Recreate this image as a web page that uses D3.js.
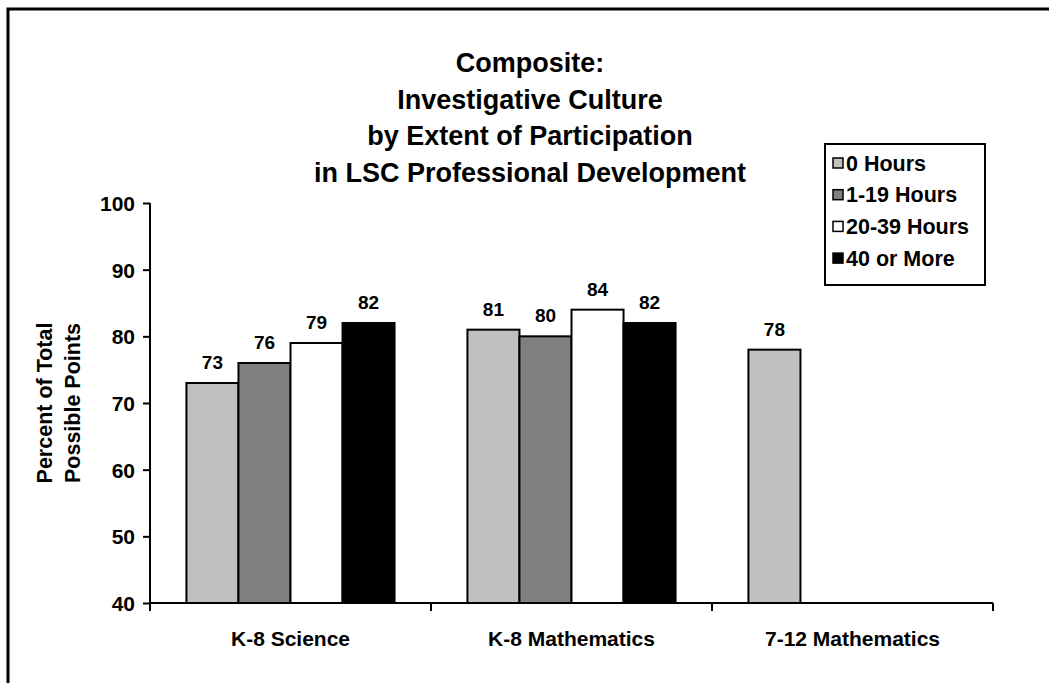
<!DOCTYPE html>
<html><head><meta charset="utf-8">
<script src="https://cdn.jsdelivr.net/npm/d3@7"></script>
<style>body{margin:0;background:#fff}svg{display:block}text{font-family:"Liberation Sans",Arial,sans-serif;font-weight:bold;fill:#000}</style>
</head><body><svg id="c" width="1049" height="683"></svg>
<script>
const categories = ["K-8 Science", "K-8 Mathematics", "7-12 Mathematics"];
const seriesNames = ["0 Hours", "1-19 Hours", "20-39 Hours", "40 or More"];
const seriesColors = ["#c0c0c0", "#808080", "#ffffff", "#000000"];
const s0 = [73, 81, 78];
const s1 = [76, 80, null];
const s2 = [79, 84, null];
const s3 = [82, 82, null];
const seriesValues = [s0, s1, s2, s3];
const yTicks = [40, 50, 60, 70, 80, 90, 100];
const titleLines = ["Composite:", "Investigative Culture", "by Extent of Participation", "in LSC Professional Development"];
const yTitleLines = ["Percent of Total", "Possible Points"];

const svg = d3.select("#c");
// outer frame
svg.append("rect").attr("x", 8).attr("y", 9).attr("width", 1100).attr("height", 800)
  .attr("fill", "none").attr("stroke", "#000").attr("stroke-width", 3);

const L = 150, R = 993, T = 203, B = 603;
const x = d3.scaleBand().domain(categories).range([L, R]).paddingInner(0).paddingOuter(0);
const inner = d3.scaleBand().domain(d3.range(4)).range([0, x.bandwidth()]).paddingOuter(0.70).paddingInner(0);
const y = d3.scaleLinear().domain([40, 100]).range([B, T]);

// title
svg.append("g").selectAll("text").data(titleLines).join("text")
  .attr("x", 530).attr("y", (d, i) => 72 + i * 36.7)
  .attr("text-anchor", "middle").style("font-size", "27px").text(d => d);

// y axis
const yAxis = d3.axisLeft(y).tickValues(yTicks).tickSize(7).tickPadding(8).tickFormat(d3.format("d"));
const gy = svg.append("g").attr("transform", `translate(${L},0)`).call(yAxis);
gy.select(".domain").attr("d", `M0,${T}V${B + 8}`).attr("stroke", "#000").attr("stroke-width", 2);
gy.selectAll(".tick line").attr("stroke", "#000").attr("stroke-width", 2);
gy.selectAll(".tick text").style("font-size", "21px").style("font-family", '"Liberation Sans",Arial,sans-serif').style("font-weight", "bold").attr("dy", "0.36em");

// y title
const yt = svg.append("text").attr("transform", `translate(0,403) rotate(-90)`).attr("text-anchor", "middle").style("font-size", "21.5px");
yTitleLines.forEach((t, i) => yt.append("tspan").attr("x", 0).attr("y", 52 + i * 28).text(t));

// bars
const barData = [];
seriesValues.forEach((vals, si) => vals.forEach((v, ci) => { if (v != null) barData.push({ si, ci, v }); }));
svg.append("g").selectAll("rect").data(barData).join("rect")
  .attr("x", d => x(categories[d.ci]) + inner(d.si))
  .attr("width", inner.bandwidth())
  .attr("y", d => y(d.v)).attr("height", d => y(40) - y(d.v))
  .attr("fill", d => seriesColors[d.si]).attr("stroke", "#000").attr("stroke-width", 2);

// bar labels
svg.append("g").selectAll("text").data(barData).join("text")
  .attr("x", d => x(categories[d.ci]) + inner(d.si) + inner.bandwidth() / 2)
  .attr("y", d => y(d.v) - 14)
  .attr("text-anchor", "middle").style("font-size", "19px").text(d => d.v);

// x axis
const xAxis = d3.axisBottom(x).tickSize(0).tickPadding(28);
const gx = svg.append("g").attr("transform", `translate(0,${B})`).call(xAxis);
gx.select(".domain").attr("d", `M${L},0H${R}`).attr("stroke", "#000").attr("stroke-width", 2);
gx.selectAll(".tick text").style("font-size", "21px").style("font-family", '"Liberation Sans",Arial,sans-serif').style("font-weight", "bold");
// boundary ticks
const bounds = categories.map(c => x(c)).concat([R]);
svg.append("g").selectAll("line").data(bounds).join("line")
  .attr("x1", d => d).attr("x2", d => d).attr("y1", B).attr("y2", B + 8)
  .attr("stroke", "#000").attr("stroke-width", 2);

// legend
const lg = svg.append("g");
lg.append("rect").attr("x", 825).attr("y", 144).attr("width", 160).attr("height", 141)
  .attr("fill", "#fff").attr("stroke", "#000").attr("stroke-width", 2);
const items = lg.selectAll("g.item").data(seriesNames).join("g").attr("class", "item")
  .attr("transform", (d, i) => `translate(833,${163 + i * 31.7})`);
items.append("rect").attr("x", 0).attr("y", -5).attr("width", 10).attr("height", 10)
  .attr("fill", (d, i) => seriesColors[i]).attr("stroke", "#000").attr("stroke-width", 1.5);
items.append("text").attr("x", 13).attr("y", 0).attr("dy", "0.36em").style("font-size", "21.5px").text(d => d);
</script></body></html>
